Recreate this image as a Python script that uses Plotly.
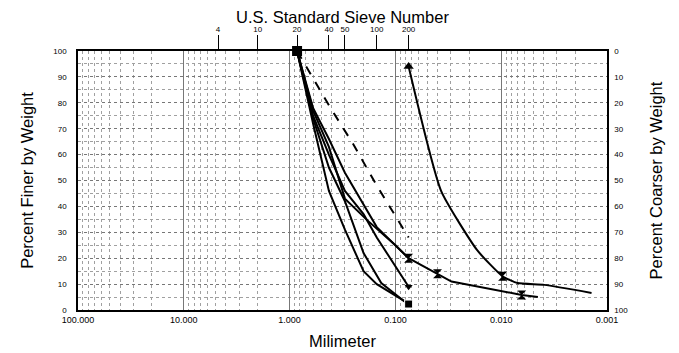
import plotly.graph_objects as go

# ---- axis labels ----
sieve_mm = [4.75, 2.0, 0.85, 0.425, 0.3, 0.15, 0.075]
sieve_labels = ['4', '10', '20', '40', '50', '100', '200']
x_tick_vals = [100, 10, 1, 0.1, 0.01, 0.001]
x_tick_text = ['100.000', '10.000', '1.000', '0.100', '0.010', '0.001']
y_ticks = list(range(0, 101, 10))

# ---- grain-size curves (diameter in mm, percent finer) ----
s1_mm = [0.85, 0.6, 0.425, 0.3, 0.2, 0.15, 0.075]
s1_pct = [100, 72, 46, 31, 15, 10, 2.5]
s2_mm = [0.85, 0.6, 0.425, 0.3, 0.2, 0.136, 0.075]
s2_pct = [100, 74, 55, 42, 22, 10.4, 2.0]
s3_mm = [0.85, 0.6, 0.425, 0.3, 0.2, 0.15, 0.075]
s3_pct = [100, 75, 60, 46, 37, 28, 9]
s4_mm = [0.85, 0.6, 0.425, 0.3, 0.185, 0.1, 0.075, 0.040, 0.0295, 0.0064, 0.0045]
s4_pct = [100, 77, 63, 43, 34.7, 25, 20, 14, 11, 5.8, 5]
s5_mm = [0.85, 0.6, 0.425, 0.3, 0.15, 0.075]
s5_pct = [100, 78, 66, 53, 32, 20]
dash_mm = [0.85, 0.425, 0.25, 0.15, 0.106, 0.075]
dash_pct = [100, 79, 64, 48, 38, 28]
h_mm = [0.075, 0.037, 0.0168, 0.0097, 0.007, 0.0039, 0.0014]
h_pct = [94, 46, 23, 13, 10.4, 9.7, 6.6]

# ---- marker points ----
sq_mm = [0.85]
sq_pct = [100]
tri_mm = [0.075]
tri_pct = [94]
hg_mm = [0.075, 0.040, 0.0097, 0.0064]
hg_pct = [20, 14, 13, 5.8]
one_mm = [0.075]
one_pct = [9]
eight_mm = [0.075]
eight_pct = [2.3]

fig = go.Figure()
line_style = dict(color='black', width=2)
for xs, ys in [(s1_mm, s1_pct), (s2_mm, s2_pct), (s3_mm, s3_pct),
               (s4_mm, s4_pct), (s5_mm, s5_pct)]:
    fig.add_trace(go.Scatter(x=xs, y=ys, mode='lines', line=line_style))
fig.add_trace(go.Scatter(x=h_mm, y=h_pct, mode='lines',
                         line=dict(color='black', width=2, shape='spline', smoothing=0.5)))
fig.add_trace(go.Scatter(x=dash_mm, y=dash_pct, mode='lines',
                         line=dict(color='black', width=2, dash='dash')))

fig.add_trace(go.Scatter(x=sq_mm, y=sq_pct, mode='markers',
                         marker=dict(symbol='square', size=10, color='black'), cliponaxis=False))
fig.add_trace(go.Scatter(x=tri_mm, y=tri_pct, mode='markers',
                         marker=dict(symbol='triangle-up', size=9, color='black')))
fig.add_trace(go.Scatter(x=hg_mm, y=hg_pct, mode='markers',
                         marker=dict(symbol='hourglass', size=9, color='black')))
fig.add_trace(go.Scatter(x=one_mm, y=one_pct, mode='markers',
                         marker=dict(symbol='triangle-down', size=7, color='black')))
fig.add_trace(go.Scatter(x=eight_mm, y=eight_pct, mode='markers',
                         marker=dict(symbol='square', size=8, color='black',
                                     line=dict(color='white', width=1))))
# helper trace so the secondary axes are drawn
fig.add_trace(go.Scatter(x=[1], y=[50], xaxis='x2', yaxis='y2', mode='markers',
                         marker=dict(opacity=0), hoverinfo='skip'))

grid_minor = dict(showgrid=True, gridcolor='#a0a0a0', gridwidth=1, griddash='dot')
narrow = 'Liberation Sans Narrow, Liberation Sans, sans-serif'

fig.update_layout(
    width=671, height=345,
    margin=dict(l=70, r=72, t=43, b=43, autoexpand=False),
    plot_bgcolor='white', paper_bgcolor='white',
    showlegend=False,
    font=dict(family='Liberation Sans, Arial, sans-serif', color='black'),
    xaxis=dict(
        type='log', range=[2, -3], automargin=False,
        tickvals=x_tick_vals, ticktext=x_tick_text,
        tickfont=dict(size=9, family=narrow),
        ticks='', showline=True, linecolor='black', linewidth=1.5,
        showgrid=True, gridcolor='#777', gridwidth=1,
        minor=dict(dtick='D1', **grid_minor),
        zeroline=False,
        title=dict(text='Milimeter', font=dict(size=16.5), standoff=12),
    ),
    xaxis2=dict(
        type='log', range=[2, -3], overlaying='x', side='top', automargin=False,
        tickvals=sieve_mm, ticktext=sieve_labels,
        tickfont=dict(size=8, family=narrow),
        ticks='outside', ticklen=14, tickcolor='black', tickwidth=1,
        showline=True, linecolor='black', linewidth=2, showgrid=False,
        title=dict(text='U.S. Standard Sieve Number', font=dict(size=16.5), standoff=0),
    ),
    yaxis=dict(
        range=[0, 100], tickvals=y_ticks, automargin=False,
        tickfont=dict(size=8, family=narrow), ticklabelstandoff=8,
        ticks='', showline=True, linecolor='black', linewidth=1.5,
        showgrid=True, gridcolor='#777', gridwidth=1, griddash='dot',
        minor=dict(dtick=5, **grid_minor),
        zeroline=False,
        title=dict(text='Percent Finer by Weight', font=dict(size=16.5), standoff=16),
    ),
    yaxis2=dict(
        range=[100, 0], overlaying='y', side='right', tickvals=y_ticks, automargin=False,
        tickfont=dict(size=8, family=narrow), ticklabelstandoff=4,
        ticks='', showline=True, linecolor='black', linewidth=1.5, showgrid=False,
        zeroline=False,
        title=dict(text='Percent Coarser by Weight', font=dict(size=16.5), standoff=23),
    ),
)

fig.write_html('out.html')
